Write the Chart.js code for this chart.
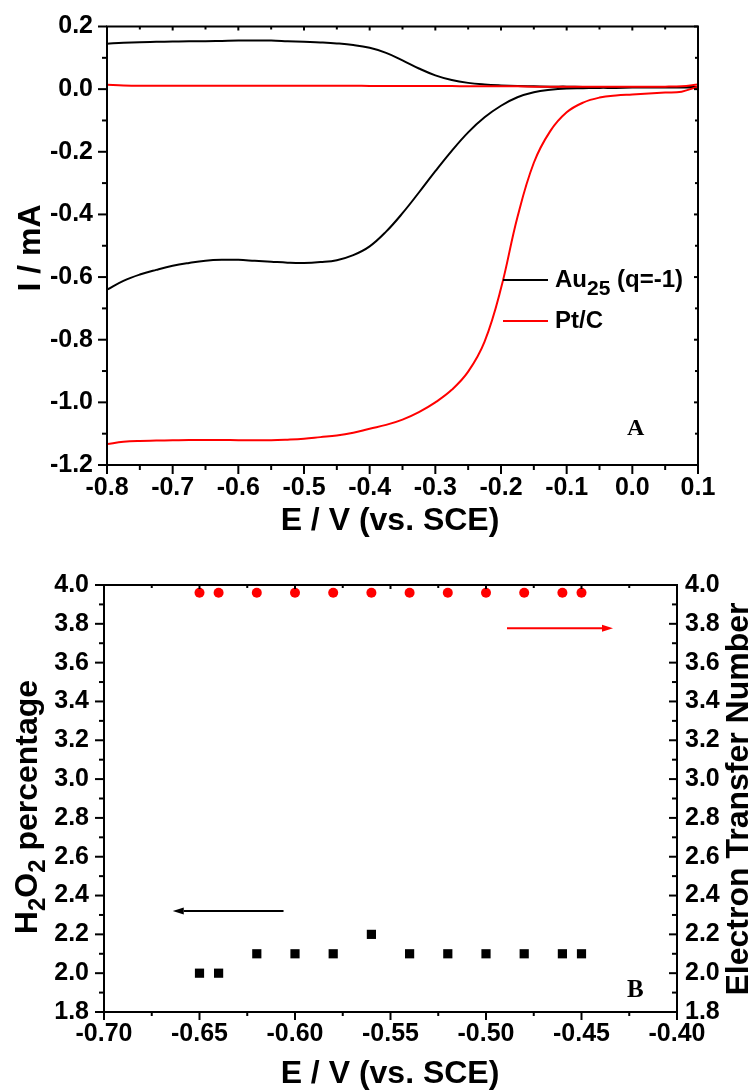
<!DOCTYPE html>
<html><head><meta charset="utf-8">
<script src="https://cdn.jsdelivr.net/npm/chart.js@4.4.1/dist/chart.umd.min.js"></script>
<style>
html,body{margin:0;padding:0;background:#fff;}
#c1{position:absolute;left:0;top:0;}
#c2{position:absolute;left:0;top:540px;}
</style></head><body>
<canvas id="c1" width="754" height="540"></canvas>
<canvas id="c2" width="754" height="550"></canvas>
<script>
// ---------- Panel A data (E / V vs SCE, I / mA) ----------
const potentialA = [-0.800,-0.775,-0.750,-0.725,-0.700,-0.675,-0.650,-0.625,-0.600,-0.575,-0.550,-0.525,-0.500,-0.475,-0.450,-0.425,-0.400,-0.375,-0.350,-0.325,-0.300,-0.275,-0.250,-0.225,-0.200,-0.175,-0.150,-0.125,-0.100,-0.075,-0.050,-0.025,0.000,0.025,0.050,0.075,0.100];
const au25Disk = [-0.640,-0.612,-0.592,-0.577,-0.564,-0.555,-0.548,-0.545,-0.545,-0.548,-0.551,-0.554,-0.555,-0.552,-0.546,-0.530,-0.502,-0.455,-0.396,-0.330,-0.262,-0.197,-0.138,-0.090,-0.053,-0.026,-0.010,-0.002,0.002,0.003,0.004,0.004,0.005,0.005,0.005,0.005,0.006];
const au25Ring = [0.145,0.148,0.150,0.151,0.152,0.153,0.153,0.154,0.155,0.155,0.155,0.153,0.151,0.149,0.146,0.141,0.132,0.116,0.092,0.066,0.044,0.029,0.020,0.015,0.012,0.010,0.009,0.008,0.008,0.007,0.007,0.007,0.007,0.007,0.007,0.007,0.007];
const ptcDisk = [-1.133,-1.126,-1.123,-1.122,-1.121,-1.120,-1.120,-1.120,-1.121,-1.121,-1.121,-1.119,-1.116,-1.111,-1.106,-1.097,-1.084,-1.072,-1.055,-1.031,-1.000,-0.960,-0.902,-0.806,-0.636,-0.409,-0.235,-0.134,-0.074,-0.043,-0.027,-0.020,-0.017,-0.014,-0.011,-0.008,0.008];
const ptcRing = [0.014,0.012,0.011,0.011,0.011,0.011,0.011,0.011,0.011,0.011,0.011,0.011,0.011,0.011,0.011,0.011,0.010,0.010,0.010,0.010,0.010,0.010,0.009,0.009,0.009,0.009,0.008,0.008,0.008,0.008,0.008,0.008,0.008,0.008,0.008,0.009,0.015];

// ---------- Panel B data ----------
const potentialB = [-0.65,-0.64,-0.62,-0.60,-0.58,-0.56,-0.54,-0.52,-0.50,-0.48,-0.46,-0.45];
const h2o2Percent = [2.0,2.0,2.1,2.1,2.1,2.2,2.1,2.1,2.1,2.1,2.1,2.1];
const electronNumber = [3.96,3.96,3.96,3.96,3.96,3.96,3.96,3.96,3.96,3.96,3.96,3.96];

const SANS = '"Liberation Sans", Arial, Helvetica, sans-serif';
const SERIF = '"Liberation Serif", "Times New Roman", serif';
Chart.defaults.font.family = SANS;
Chart.defaults.color = '#000';

const toXY = (xs, ys) => xs.map((x, i) => ({x: x, y: ys[i]}));
const fmt1 = v => (Math.abs(v) < 1e-9 ? 0 : v).toFixed(1);
const fmt2 = v => (Math.abs(v) < 1e-9 ? 0 : v).toFixed(2);
const bold = s => 'bold ' + s + 'px ' + SANS;

function drawRich(ctx, parts, x, y, rot, align) {
  ctx.save();
  ctx.translate(x, y);
  ctx.rotate(rot);
  let total = 0;
  parts.forEach(p => { ctx.font = p.font; p.w = ctx.measureText(p.t).width; total += p.w; });
  let cx = align === 'center' ? -total / 2 : 0;
  ctx.textBaseline = 'alphabetic';
  ctx.textAlign = 'left';
  parts.forEach(p => { ctx.font = p.font; ctx.fillStyle = p.color || '#000'; ctx.fillText(p.t, cx, p.dy || 0); cx += p.w; });
  ctx.restore();
}

function arrow(ctx, x1, y1, x2, y2, color) {
  const dir = Math.sign(x2 - x1), hl = 11, hw = 3.5;
  ctx.save();
  ctx.strokeStyle = color; ctx.fillStyle = color; ctx.lineWidth = 2;
  ctx.beginPath(); ctx.moveTo(x1, y1); ctx.lineTo(x2 - dir * hl, y2); ctx.stroke();
  ctx.beginPath(); ctx.moveTo(x2, y2); ctx.lineTo(x2 - dir * hl, y2 - hw); ctx.lineTo(x2 - dir * hl, y2 + hw); ctx.closePath(); ctx.fill();
  ctx.restore();
}

const decor = {
  id: 'decor',
  afterDraw(chart, args, opts) {
    const ctx = chart.ctx, a = chart.chartArea;
    ctx.save();
    ctx.strokeStyle = '#000'; ctx.lineWidth = 2;
    ctx.strokeRect(a.left, a.top, a.right - a.left, a.bottom - a.top);
    (opts.axes || []).forEach(spec => {
      const sc = chart.scales[spec.id];
      const vals = sc.ticks.map(t => t.value);
      const minors = [];
      for (let i = 0; i < vals.length - 1; i++) minors.push((vals[i] + vals[i + 1]) / 2);
      const draw = (v, len) => {
        const p = sc.getPixelForValue(v);
        ctx.beginPath();
        if (spec.side === 'bottom') { ctx.moveTo(p, a.bottom); ctx.lineTo(p, a.bottom + len); }
        else if (spec.side === 'top') { ctx.moveTo(p, a.top); ctx.lineTo(p, a.top - len); }
        else if (spec.side === 'left') { ctx.moveTo(a.left, p); ctx.lineTo(a.left - len, p); }
        else { ctx.moveTo(a.right, p); ctx.lineTo(a.right + len, p); }
        ctx.stroke();
      };
      vals.forEach(v => draw(v, spec.major));
      minors.forEach(v => draw(v, spec.minor));
    });
    ctx.restore();
    if (opts.extra) opts.extra(chart, ctx, a);
  }
};

// ---------- Panel A ----------
new Chart(document.getElementById('c1'), {
  type: 'line',
  data: {
    datasets: [
      {label: 'Pt/C', data: toXY(potentialA, ptcDisk), borderColor: '#ff0000'},
      {label: 'Pt/C ring', data: toXY(potentialA, ptcRing), borderColor: '#ff0000'},
      {label: 'Au25 (q=-1)', data: toXY(potentialA, au25Disk), borderColor: '#000000'},
      {label: 'Au25 ring', data: toXY(potentialA, au25Ring), borderColor: '#000000'}
    ]
  },
  options: {
    responsive: false, animation: false, events: [],
    layout: {padding: {top: 25, right: 56, left: 0, bottom: 0}},
    elements: {point: {radius: 0}, line: {borderWidth: 2, tension: 0.4, cubicInterpolationMode: 'default', fill: false}},
    plugins: {
      legend: {display: false}, tooltip: {enabled: false},
      decor: {
        axes: [
          {id: 'x', side: 'bottom', major: 9, minor: 5},
          {id: 'x', side: 'top', major: -4, minor: -3},
          {id: 'y', side: 'left', major: 9, minor: 5},
          {id: 'y', side: 'right', major: -4, minor: -3}
        ],
        extra(chart, ctx, a) {
          drawRich(ctx, [{t: 'E / V (vs. SCE)', font: bold(32)}], 390, 530, 0, 'center');
          drawRich(ctx, [{t: 'I / mA', font: bold(32)}], 40, 248, -Math.PI / 2, 'center');
          // legend
          ctx.save(); ctx.lineWidth = 2;
          ctx.strokeStyle = '#000'; ctx.beginPath(); ctx.moveTo(503, 280); ctx.lineTo(548, 280); ctx.stroke();
          ctx.strokeStyle = '#ff0000'; ctx.beginPath(); ctx.moveTo(503, 321); ctx.lineTo(548, 321); ctx.stroke();
          ctx.restore();
          drawRich(ctx, [{t: 'Au', font: bold(24)}, {t: '25', font: bold(21), dy: 8}, {t: ' (q=-1)', font: bold(24)}], 555, 287, 0, 'left');
          drawRich(ctx, [{t: 'Pt/C', font: bold(24)}], 555, 328, 0, 'left');
          drawRich(ctx, [{t: 'A', font: 'bold 24px ' + SERIF}], 627, 435, 0, 'left');
        }
      }
    },
    scales: {
      x: {
        type: 'linear', min: -0.8, max: 0.1,
        ticks: {stepSize: 0.1, padding: 11, autoSkip: false, maxRotation: 0, font: {size: 25, weight: 'bold', lineHeight: 1}, callback: fmt1},
        grid: {display: false, drawTicks: false}, border: {display: false},
        afterFit(s) { s.height = 75; }
      },
      y: {
        type: 'linear', min: -1.2, max: 0.2,
        ticks: {stepSize: 0.2, padding: 14, autoSkip: false, font: {size: 25, weight: 'bold', lineHeight: 1}, callback: fmt1},
        grid: {display: false, drawTicks: false}, border: {display: false},
        afterFit(s) { s.width = 107; }
      }
    }
  },
  plugins: [decor]
});

// ---------- Panel B ----------
const arrowLeft = {x1: -0.606, x2: -0.664, y: 2.32};
const arrowRight = {x1: -0.489, x2: -0.4335, y: 3.777};

new Chart(document.getElementById('c2'), {
  type: 'scatter',
  data: {
    datasets: [
      {label: 'Electron Transfer Number', data: toXY(potentialB, electronNumber), yAxisID: 'y2',
       pointStyle: 'circle', pointRadius: 5, pointBorderWidth: 0, backgroundColor: '#ff0000', borderColor: '#ff0000'},
      {label: 'H2O2 percentage', data: toXY(potentialB, h2o2Percent), yAxisID: 'y',
       pointStyle: 'rect', pointRadius: 6.5, pointBorderWidth: 0, backgroundColor: '#000000', borderColor: '#000000'}
    ]
  },
  options: {
    responsive: false, animation: false, events: [],
    layout: {padding: {top: 45, right: 0, left: 0, bottom: 0}},
    plugins: {
      legend: {display: false}, tooltip: {enabled: false},
      decor: {
        axes: [
          {id: 'x', side: 'bottom', major: 8, minor: 4},
          {id: 'x', side: 'top', major: -4, minor: -3},
          {id: 'y', side: 'left', major: 9, minor: 5},
          {id: 'y2', side: 'right', major: -8, minor: -5}
        ],
        extra(chart, ctx, a) {
          const sx = chart.scales.x, sy = chart.scales.y, sy2 = chart.scales.y2;
          arrow(ctx, sx.getPixelForValue(arrowLeft.x1), sy.getPixelForValue(arrowLeft.y),
                sx.getPixelForValue(arrowLeft.x2), sy.getPixelForValue(arrowLeft.y), '#000');
          arrow(ctx, sx.getPixelForValue(arrowRight.x1), sy2.getPixelForValue(arrowRight.y),
                sx.getPixelForValue(arrowRight.x2), sy2.getPixelForValue(arrowRight.y), '#ff0000');
          drawRich(ctx, [{t: 'E / V (vs. SCE)', font: bold(32)}], 390, 543, 0, 'center');
          drawRich(ctx, [{t: 'H', font: bold(32)}, {t: '2', font: bold(24), dy: 8}, {t: 'O', font: bold(32)}, {t: '2', font: bold(24), dy: 8}, {t: ' percentage', font: bold(32)}], 37, 267, -Math.PI / 2, 'center');
          drawRich(ctx, [{t: 'Electron Transfer Number', font: bold(32)}], 748, 259, -Math.PI / 2, 'center');
          drawRich(ctx, [{t: 'B', font: 'bold 25px ' + SERIF}], 627, 457, 0, 'left');
        }
      }
    },
    scales: {
      x: {
        type: 'linear', min: -0.7, max: -0.4,
        ticks: {stepSize: 0.05, padding: 10, autoSkip: false, maxRotation: 0, font: {size: 25, weight: 'bold', lineHeight: 1}, callback: fmt2},
        grid: {display: false, drawTicks: false}, border: {display: false},
        afterFit(s) { s.height = 78; }
      },
      y: {
        type: 'linear', position: 'left', min: 1.8, max: 4.0,
        ticks: {stepSize: 0.2, padding: 15, autoSkip: false, font: {size: 25, weight: 'bold', lineHeight: 1}, callback: fmt1},
        grid: {display: false, drawTicks: false}, border: {display: false},
        afterFit(s) { s.width = 104; }
      },
      y2: {
        type: 'linear', position: 'right', min: 1.8, max: 4.0,
        ticks: {stepSize: 0.2, padding: 8, autoSkip: false, font: {size: 25, weight: 'bold', lineHeight: 1}, callback: fmt1},
        grid: {display: false, drawTicks: false}, border: {display: false},
        afterFit(s) { s.width = 77; }
      }
    }
  },
  plugins: [decor]
});
</script>
</body></html>
